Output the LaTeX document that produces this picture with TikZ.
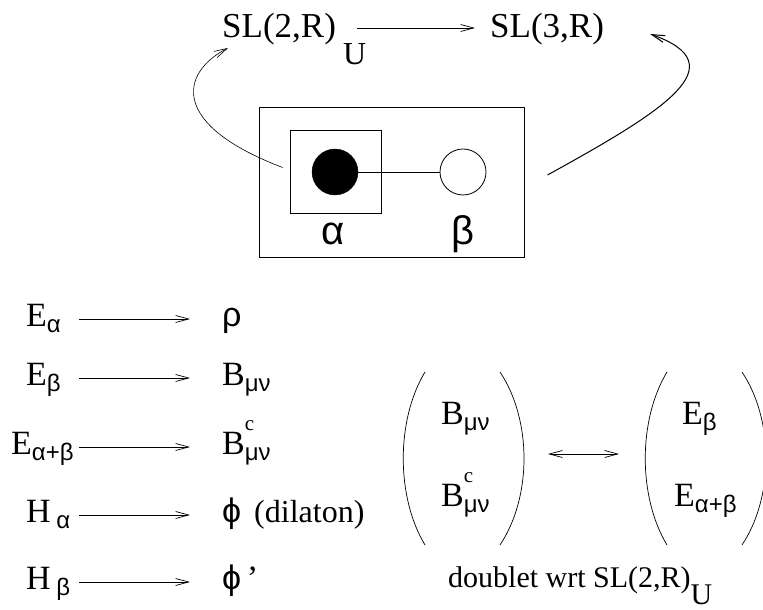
\documentclass[tikz,border=0pt]{standalone}
\usepackage{fontspec}
\setmainfont{Liberation Serif}
\newfontfamily\grk{Liberation Sans}
\usetikzlibrary{arrows.meta,calc}
\newcommand\fs[1]{\fontsize{#1}{#1}\selectfont}
\newcommand\gsub[1]{\raisebox{-6pt}{\fs{24}\grk #1}}
\newcommand\csup{\rlap{\raisebox{24pt}{\fs{21}c}}}
\tikzset{
	lbl/.style={inner sep=0pt, font=\fs{34}, anchor=base west},
	arr/.style={line width=0.7pt, -{Straight Barb[length=13pt,width=7pt]}},
	dbl/.style={line width=0.7pt, {Straight Barb[length=13pt,width=7pt]}-{Straight Barb[length=13pt,width=7pt]}},
	paren/.style={line width=0.7pt},
}
\begin{document}
\begin{tikzpicture}[x=1pt,y=1pt]
	\useasboundingbox (0,0) rectangle (763,610);
	\node[lbl, font=\fs{35}] (sl2) at (222,572) {SL(2,R)};
	\node[lbl, font=\fs{32}] (slU) at (343,545) {U};
	\node[lbl, font=\fs{35}] (sl3) at (490,572) {SL(3,R)};
	\draw[arr] ($(sl2.base east)+(21,10)$) -- ($(sl3.base west)+(-15,10)$);
	\node[draw, line width=1pt, minimum width=265pt, minimum height=150pt] (dynkin) at (391.5,427) {};
	\node[draw, line width=0.8pt, minimum width=91pt, minimum height=83pt] (sq) at (335.5,438.5) {};
	\node[circle, draw, fill, minimum size=46pt, inner sep=0pt] (ra) at (335,438) {};
	\node[circle, draw, line width=0.8pt, minimum size=46pt, inner sep=0pt] (rb) at (463,438) {};
	\draw[line width=0.7pt] (ra) -- (rb);
	\node[lbl, anchor=center, font=\fs{40}\grk] (la) at (333,376) {α};
	\node[lbl, anchor=center, font=\fs{40}\grk] (lb) at (463,376) {β};
	\draw[arr, line width=0.6pt] ($(sq.west)+(-7,4)$) .. controls +(-113,43) and +(-48,-25) .. ($(sl2.base west)+(6,-10)$);
	\draw[arr, line width=1pt] ($(dynkin.east)+(23,8)$) .. controls +(118,65) and +(87,-31) .. ($(sl3.base east)+(46,4)$);
	\node[lbl] (ea) at (26,283) {E\gsub{α}};
	\node[lbl] (eb) at (26,224) {E\gsub{β}};
	\node[lbl] (eab) at (11,155) {E\gsub{α+β}};
	\node[lbl] (ha) at (26,87) {H\,\gsub{α}};
	\node[lbl] (hb) at (26,20) {H\,\gsub{β}};
	\node[lbl] (rho) at (222,283) {\grk ρ};
	\node[lbl] (bmn) at (222,224) {B\gsub{μν}};
	\node[lbl] (bmnc) at (222,155) {B\csup\gsub{μν}};
	\node[lbl] (phi) at (222,87) {{\grk ϕ}\hspace{13pt}{\fs{32}(dilaton)}};
	\node[lbl] (phip) at (222,20) {{\grk ϕ}\,’};
	\coordinate (ax) at (79,0);
	\foreach \a/\b in {ea/rho,eb/bmn,eab/bmnc,ha/phi,hb/phip}
		\draw[arr] ($(ax |- \a.base)+(0,8)$) -- ($(\b.base west)+(-32,8)$);
	\node[lbl] (b1) at (441,185) {B\gsub{μν}};
	\node[lbl] (b2) at (441,103) {B\csup\gsub{μν}};
	\node[lbl] (e1) at (682,185) {E\gsub{β}};
	\node[lbl] (e2) at (674,103) {E\gsub{α+β}};
	\draw[paren] (425,238) .. controls (396,190) and (396,113) .. (425,65);
	\draw[paren] (500,238) .. controls (532,190) and (532,113) .. (500,65);
	\draw[paren] (667,238) .. controls (638,190) and (638,113) .. (667,65);
	\draw[paren] (742,238) .. controls (774,190) and (774,113) .. (742,65);
	\coordinate (p1) at (525,156);
	\coordinate (p2) at (643,156);
	\draw[dbl, shorten <=23pt, shorten >=24pt] (p1) -- (p2);
	\node[lbl, font=\fs{30}] (dbt) at (448,22) {doublet wrt SL(2,R)\raisebox{-17pt}{U}};
\end{tikzpicture}
\end{document}
